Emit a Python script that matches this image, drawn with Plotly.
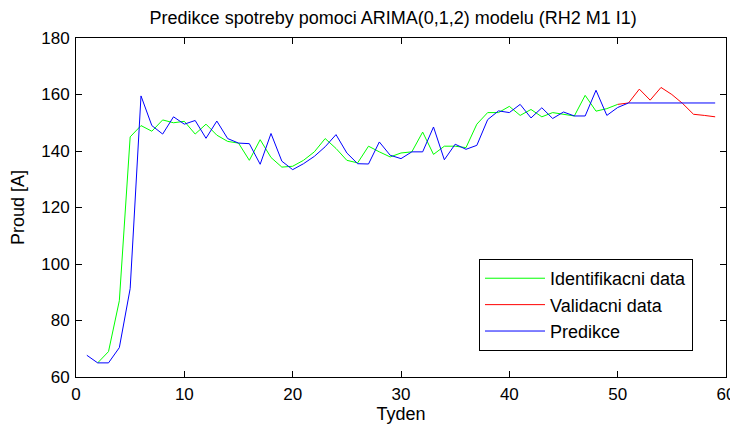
import plotly.graph_objects as go

weeks_ident = list(range(2, 51))
ident = [65, 69, 87, 145, 149, 147, 151, 150, 150.5, 146, 149.5, 145.6, 143.4, 142.8, 136.7,
         144, 137.7, 134.3, 134.6, 136.7, 139.7, 144.4, 140.9, 136.7, 135.8, 141.7, 139.7,
         137.9, 139.3, 139.7, 146.7, 138.8, 141.7, 141.7, 141.2, 149.5, 153.6, 153.6, 155.8,
         152.6, 154.7, 152.1, 153.6, 153, 152.4, 159.7, 154.1, 155, 156.5]

weeks_valid = list(range(50, 60))
valid = [156.5, 157, 161.9, 158, 162.5, 160, 156.8, 153, 152.6, 152.1]

weeks_pred = list(range(1, 60))
pred = [67.7, 65, 65, 70.4, 91.3, 159.5, 149, 146, 152.1, 149.5, 150.8, 144.5, 150.6, 144.4,
        142.8, 142.6, 135.3, 146.2, 136.4, 133.4, 135.5, 138.1, 141.5, 145.8, 139.3, 135.5,
        135.4, 143.2, 138.5, 137.3, 139.7, 139.7, 148.5, 136.9, 142.4, 140.6, 142, 151.1,
        154.2, 153.6, 156.5, 151.7, 155.3, 151.5, 153.8, 152.4, 152.4, 161.5, 152.6, 155.4,
        157, 157, 157, 157, 157, 157, 157, 157, 157]

fig = go.Figure()
fig.add_trace(go.Scatter(x=weeks_ident, y=ident, mode="lines", name="Identifikacni data",
                         line=dict(color="#00ff00", width=1)))
fig.add_trace(go.Scatter(x=weeks_valid, y=valid, mode="lines", name="Validacni data",
                         line=dict(color="#ff0000", width=1)))
fig.add_trace(go.Scatter(x=weeks_pred, y=pred, mode="lines", name="Predikce",
                         line=dict(color="#0000ff", width=1)))

font = "Liberation Sans, Arial, Helvetica, sans-serif"
axis_common = dict(showgrid=False, zeroline=False, showline=True, linecolor="black",
                   linewidth=1, mirror="ticks", ticks="inside", ticklen=6, tickcolor="black",
                   automargin=False, ticklabelstandoff=2,
                   tickfont=dict(size=17, color="black", family=font))

# page body has an 8px default margin; compensate so the plot sits where the reference does
fig.update_layout(
    width=730, height=417,
    margin=dict(l=68, r=12, t=30, b=48),
    paper_bgcolor="white", plot_bgcolor="white",
    font=dict(family=font, color="black"),
    title=dict(text="Predikce spotreby pomoci ARIMA(0,1,2) modelu (RH2 M1 I1)",
               xref="paper", x=0.488, xanchor="center",
               yref="container", y=1 - 10 / 417, yanchor="middle",
               font=dict(size=18, color="black", family=font)),
    xaxis=dict(range=[0, 60], tickvals=[0, 10, 20, 30, 40, 50, 60],
               title=dict(text="Tyden", font=dict(size=18), standoff=2), **axis_common),
    yaxis=dict(range=[60, 180], tickvals=[60, 80, 100, 120, 140, 160, 180],
               title=dict(text="Proud [A]", font=dict(size=18), standoff=12), **axis_common),
    legend=dict(x=0.62, y=0.348, xanchor="left", yanchor="top",
                bordercolor="black", borderwidth=1, bgcolor="white",
                itemwidth=60,
                font=dict(size=18, color="black", family=font)),
    showlegend=True,
)

fig.write_html("out.html")
